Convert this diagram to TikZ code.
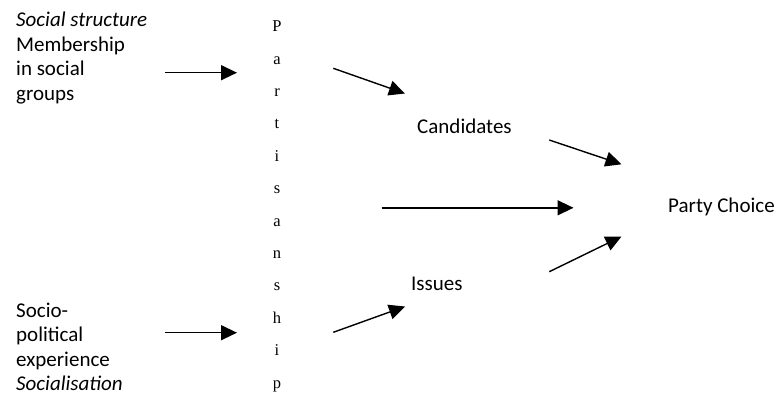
\documentclass[tikz,border=0pt]{standalone}
\usepackage{fontspec}
\setmainfont{Carlito}
\newfontfamily\serifletters{Liberation Serif}
\usetikzlibrary{arrows.meta}
\begin{document}
\begin{tikzpicture}[x=1pt,y=-1pt,
  txt/.style={inner sep=0pt,anchor=base west,font=\fontsize{21}{25}\selectfont},
  letter/.style={inner sep=0pt,anchor=base,font=\serifletters\fontsize{16.5}{18}\selectfont},
  arr/.style={line width=1.4pt,-{Triangle[length=16pt,width=15pt]}}]
\useasboundingbox (0,0) rectangle (778,394);
% left top block
\node[txt] (t1) at (16,26.7) {\itshape Social structure};
\node[txt] (t2) at (16,51.2) {Membership};
\node[txt] (t3) at (16,75.7) {in social};
\node[txt] (t4) at (16,100.2) {groups};
% left bottom block
\node[txt] (b1) at (16,317) {Socio-};
\node[txt] (b2) at (16,341.5) {political};
\node[txt] (b3) at (16,366) {experience};
\node[txt,text depth=0pt] (b4) at (16,390) {\itshape Socialisation};
% Partisanship vertical
\foreach \ch [count=\i from 0] in {P,a,r,t,i,s,a,n,s,h,i,p}{
  \node[letter] (p\i) at (277,31.7+32.4*\i) {\ch};
}
\node[txt] (cand) at (417,133.3) {Candidates};
\node[txt] (iss) at (411,290) {Issues};
\node[txt] (party) at (668,212.7) {Party Choice};
% arrow endpoints
\coordinate (a1s) at (165,72.7); \coordinate (a1e) at (237,72.7);
\coordinate (a2s) at (165,332.7); \coordinate (a2e) at (237,332.7);
\coordinate (a3s) at (333.3,68.3); \coordinate (a3e) at (405,93.5);
\coordinate (a4s) at (333.3,332.3); \coordinate (a4e) at (405,306.5);
\coordinate (a5s) at (381.5,207.8); \coordinate (a5e) at (573.5,207.8);
\coordinate (a6s) at (549.3,140); \coordinate (a6e) at (621.5,164.3);
\coordinate (a7s) at (549.3,271.7); \coordinate (a7e) at (621.5,236.5);
\draw[arr] (a1s) -- (a1e);
\draw[arr] (a2s) -- (a2e);
\draw[arr] (a3s) -- (a3e);
\draw[arr] (a4s) -- (a4e);
\draw[arr] (a5s) -- (a5e);
\draw[arr] (a6s) -- (a6e);
\draw[arr] (a7s) -- (a7e);
\end{tikzpicture}
\end{document}
